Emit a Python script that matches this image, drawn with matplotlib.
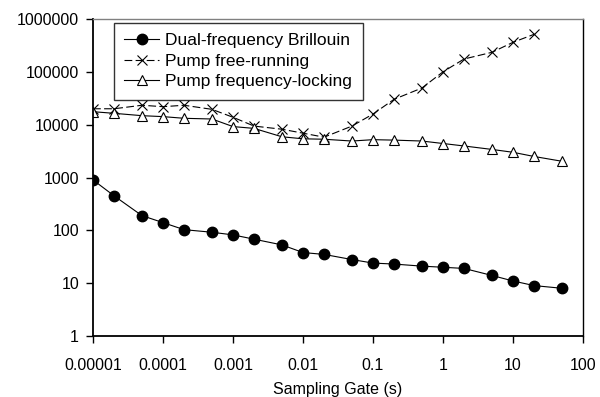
import numpy as np
import matplotlib
matplotlib.use("Agg")
import matplotlib.pyplot as plt
from matplotlib.ticker import FixedLocator, FixedFormatter, NullLocator

plt.rcParams['font.family'] = ['Liberation Sans', 'DejaVu Sans']

# sampling gate (s)
gate = [1e-5, 2e-5, 5e-5, 1e-4, 2e-4, 5e-4, 1e-3, 2e-3, 5e-3, 0.01, 0.02,
        0.05, 0.1, 0.2, 0.5, 1, 2, 5, 10, 20, 50]

dual = [900, 450, 190, 140, 103, 92, 82, 68, 53, 38, 35,
        28, 24, 23, 21, 20, 19, 14, 11, 9, 8]
free_running = [20000, 20000, 23300, 21900, 23300, 19500, 13800, 9400, 8200, 6900, 5800,
                9400, 15900, 30200, 49400, 100000, 175000, 234000, 362000, 513000]
locking = [17600, 16400, 14800, 14200, 13200, 12800, 9200, 8500, 5900, 5400, 5300,
           4900, 5200, 5100, 4900, 4400, 3950, 3400, 3000, 2500, 2030]

xticks = [1e-5, 1e-4, 1e-3, 1e-2, 1e-1, 1, 10, 100]
xlabels = ['0.00001', '0.0001', '0.001', '0.01', '0.1', '1', '10', '100']
yticks = [1, 10, 100, 1000, 10000, 100000, 1000000]
ylabels = ['1', '10', '100', '1000', '10000', '100000', '1000000']

fig = plt.figure(figsize=(6, 3.97), dpi=100)
ax = fig.add_axes([93 / 600, 1 - 336 / 397, 490 / 600, 317 / 397])

ax.plot(gate, dual, color='black', lw=0.8, marker='o', ms=7.5,
        mfc='black', mec='black', label='Dual-frequency Brillouin')
ax.plot(gate[:len(free_running)], free_running, color='black', lw=0.8,
        ls=(0, (7, 3)), marker='x', ms=6.5, mew=0.8,
        label='Pump free-running')
ax.plot(gate, locking, color='black', lw=0.8, marker='^', ms=6.5,
        mfc='white', mec='black', mew=0.8, label='Pump frequency-locking')

ax.set_xscale('log')
ax.set_yscale('log')
ax.set_xlim(1e-5, 100)
ax.set_ylim(1, 1e6)
ax.xaxis.set_major_locator(FixedLocator(xticks))
ax.xaxis.set_major_formatter(FixedFormatter(xlabels))
ax.xaxis.set_minor_locator(NullLocator())
ax.yaxis.set_major_locator(FixedLocator(yticks))
ax.yaxis.set_major_formatter(FixedFormatter(ylabels))
ax.yaxis.set_minor_locator(NullLocator())
ax.tick_params(direction='out', length=5, width=1, labelsize=11.5)
ax.tick_params(axis='x', pad=11)
ax.tick_params(axis='y', pad=5)

for side in ['left', 'bottom']:
    ax.spines[side].set_linewidth(1.3)
    ax.spines[side].set_color('black')
for side in ['top', 'right']:
    ax.spines[side].set_linewidth(1.0)
    ax.spines[side].set_color('#808080')
ax.spines['right'].set_color('black')

ax.set_xlabel('Sampling Gate (s)', fontsize=11.5, labelpad=6)

leg = ax.legend(loc='upper left', bbox_to_anchor=(0.043, 0.988), fontsize=12.5,
                frameon=True, fancybox=False, edgecolor='black',
                handlelength=2.0, borderpad=0.6, labelspacing=0.3,
                handletextpad=0.35, borderaxespad=0)
leg.get_frame().set_linewidth(1.0)

fig.savefig('out.png', dpi=100)
